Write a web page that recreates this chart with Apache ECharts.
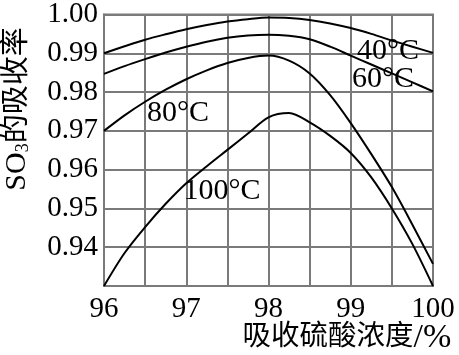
<!DOCTYPE html>
<html>
<head>
<meta charset="utf-8">
<script src="https://cdn.jsdelivr.net/npm/echarts@6/dist/echarts.min.js"></script>
<style>
html,body{margin:0;padding:0;background:#fff;}
#chart{width:459px;height:355px;}
</style>
</head>
<body>
<div id="chart"></div>
<script>
// Data
var concentration = [96, 96.25, 96.5, 96.75, 97, 97.25, 97.5, 97.75, 98, 98.25, 98.5, 98.75, 99, 99.25, 99.5, 99.75, 100];
var rate40 = [0.9900, 0.9918, 0.9935, 0.9949, 0.9962, 0.9973, 0.9982, 0.9988, 0.9992, 0.9991, 0.9986, 0.9977, 0.9965, 0.9950, 0.9933, 0.9917, 0.9901];
var rate60 = [0.9847, 0.9867, 0.9885, 0.9902, 0.9917, 0.9930, 0.9940, 0.9946, 0.9948, 0.9945, 0.9936, 0.9917, 0.9894, 0.9871, 0.9848, 0.9825, 0.9802];
var rate80 = [0.9700, 0.9740, 0.9775, 0.9806, 0.9833, 0.9856, 0.9875, 0.9888, 0.9894, 0.9881, 0.9848, 0.9792, 0.9720, 0.9640, 0.9555, 0.9458, 0.9357];
var rate100 = [0.9300, 0.9385, 0.9452, 0.9512, 0.9565, 0.9609, 0.9651, 0.9693, 0.9735, 0.9746, 0.9722, 0.9687, 0.9643, 0.9580, 0.9500, 0.9408, 0.9300];
var seriesNames = ['40°C', '60°C', '80°C', '100°C'];
var xTitleMain = '吸收硫酸浓度';
var xTitleUnit = '/%';
var yTitleMain = '的吸收率';

function pairs(ys) { return concentration.map(function (x, i) { return [x, ys[i]]; }); }

var serif = '"Liberation Serif", "Times New Roman", "Noto Sans CJK SC", serif';
var cjk = '"Liberation Serif", "Noto Sans CJK SC", sans-serif';
var gridColor = '#7a7a7a';

var chart = echarts.init(document.getElementById('chart'));
function mkSeries(name, ys) {
  return {
    name: name, type: 'line', data: pairs(ys), smooth: 0.3, symbol: 'none',
    lineStyle: { color: '#000', width: 2 }, z: 5, silent: true
  };
}
var labelStyle = { fill: '#000', fontFamily: serif, fontSize: 30 };
chart.setOption({
  animation: false,
  backgroundColor: '#fff',
  grid: { left: 104, right: 26, top: 12, bottom: 69, show: true, borderColor: gridColor, borderWidth: 2 },
  xAxis: {
    type: 'value', min: 96, max: 100, interval: 0.5,
    axisLine: { show: true, lineStyle: { color: gridColor, width: 2 } },
    axisTick: { show: false },
    splitLine: { show: true, lineStyle: { color: gridColor, width: 2 } },
    axisLabel: {
      color: '#000', fontFamily: serif, fontSize: 29, margin: 9,
      formatter: function (v) { return Math.abs(v - Math.round(v)) < 1e-6 ? String(Math.round(v)) : ''; }
    }
  },
  yAxis: {
    type: 'value', min: 0.93, max: 1.00, interval: 0.01,
    axisLine: { show: true, lineStyle: { color: gridColor, width: 2 } },
    axisTick: { show: false },
    splitLine: { show: true, lineStyle: { color: gridColor, width: 2 } },
    axisLabel: {
      color: '#000', fontFamily: serif, fontSize: 29, margin: 6, padding: [17, 0, 0, 0],
      formatter: function (v) { return v < 0.935 ? '' : v.toFixed(2); }
    }
  },
  graphic: [
    { type: 'text', x: 388, y: 51, style: Object.assign({ text: seriesNames[0], align: 'center', verticalAlign: 'middle' }, labelStyle), z: 10 },
    { type: 'text', x: 383, y: 79, style: Object.assign({ text: seriesNames[1], align: 'center', verticalAlign: 'middle' }, labelStyle), z: 10 },
    { type: 'text', x: 178, y: 113, style: Object.assign({ text: seriesNames[2], align: 'center', verticalAlign: 'middle' }, labelStyle), z: 10 },
    { type: 'text', x: 222, y: 191, style: Object.assign({ text: seriesNames[3], align: 'center', verticalAlign: 'middle' }, labelStyle), z: 10 },
    { type: 'text', x: 347, y: 338,
      style: {
        text: '{c|' + xTitleMain + '}{d|' + xTitleUnit + '}', align: 'center', verticalAlign: 'middle',
        rich: {
          c: { fontFamily: cjk, fontSize: 28.5, fill: '#000' },
          d: { fontFamily: serif, fontSize: 34, fill: '#000' }
        }
      }
    },
    { type: 'text', x: 17, y: 109, rotation: Math.PI / 2,
      style: {
        text: '{a|SO}{s|3}{b|' + yTitleMain + '}', align: 'center', verticalAlign: 'middle',
        rich: {
          a: { fontFamily: serif, fontSize: 30, fill: '#000' },
          s: { fontFamily: serif, fontSize: 18, fill: '#000', verticalAlign: 'bottom', lineHeight: 20 },
          b: { fontFamily: cjk, fontSize: 29, fill: '#000' }
        }
      }
    }
  ],
  series: [
    mkSeries(seriesNames[0], rate40),
    mkSeries(seriesNames[1], rate60),
    mkSeries(seriesNames[2], rate80),
    mkSeries(seriesNames[3], rate100)
  ]
});
</script>
</body>
</html>
